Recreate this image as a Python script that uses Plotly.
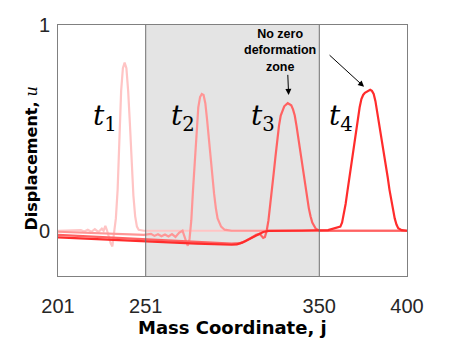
import plotly.graph_objects as go

# mass coordinate j / displacement u for the four snapshots
t1_j = [201, 205, 210, 214, 216, 218, 220, 222, 224, 226, 227, 228, 229, 230, 231, 232, 233, 234,
        235, 236, 237, 238, 239, 240, 241, 242, 243, 244, 245, 246, 247, 250, 300, 350, 400]
t1_u = [0.0, 0.0, 0.0, 0.003, -0.004, 0.005, -0.005, 0.008, -0.006, 0.01, 0.0, 0.024, 0.0, -0.03,
        -0.06, -0.076, -0.02, 0.06, 0.2, 0.45, 0.68, 0.79, 0.817, 0.79, 0.68, 0.52, 0.33, 0.17,
        0.07, 0.02, 0.005, 0.0, 0.0, 0.0, 0.0]

t2_j = [201, 210, 220, 230, 240, 250, 254, 256, 258, 260, 262, 264, 266, 268, 270, 272, 274, 275,
        276, 277, 278, 279, 280, 281, 282, 283, 284, 285, 286, 287, 288, 289, 290, 291, 292, 294,
        296, 300, 350, 400]
t2_u = [-0.005, -0.008, -0.011, -0.014, -0.017, -0.02, -0.015, -0.025, -0.017, -0.027, -0.018,
        -0.028, -0.016, -0.03, -0.01, 0.0, -0.05, -0.073, -0.04, 0.05, 0.2, 0.35, 0.5, 0.6, 0.65,
        0.665, 0.66, 0.62, 0.54, 0.44, 0.35, 0.26, 0.18, 0.11, 0.06, 0.02, 0.005, 0.0, 0.0, 0.0]

t3_j = [201, 220, 240, 260, 280, 300, 305, 308, 311, 314, 316, 318, 319, 320, 321, 322, 323, 324,
        325, 326, 327, 328, 330, 332, 334, 335, 336, 337, 338, 339, 340, 341, 342, 343, 344, 345,
        346, 348, 350, 360, 400]
t3_u = [-0.02, -0.028, -0.037, -0.046, -0.055, -0.063, -0.06, -0.05, -0.035, -0.02, -0.015,
        -0.035, -0.03, 0.0, 0.05, 0.12, 0.2, 0.28, 0.36, 0.44, 0.51, 0.56, 0.605, 0.62, 0.61,
        0.59, 0.56, 0.51, 0.45, 0.39, 0.33, 0.27, 0.21, 0.16, 0.11, 0.07, 0.04, 0.01, 0.0, 0.0, 0.0]

t4_j = [201, 220, 240, 260, 280, 300, 303, 306, 309, 312, 315, 318, 321, 325, 340, 355, 358, 360,
        362, 363, 364, 365, 366, 367, 368, 369, 370, 371, 372, 373, 374, 375, 376, 377, 378, 379,
        380, 381, 382, 383, 384, 385, 386, 387, 388, 389, 390, 391, 392, 393, 394, 395, 397, 400]
t4_u = [-0.032, -0.04, -0.048, -0.056, -0.063, -0.068, -0.066, -0.058, -0.045, -0.03, -0.016,
        -0.006, -0.001, 0.0, 0.001, 0.003, 0.01, 0.014, 0.02, 0.04, 0.08, 0.13, 0.19, 0.25, 0.3,
        0.35, 0.41, 0.48, 0.55, 0.6, 0.64, 0.66, 0.67, 0.675, 0.68, 0.685, 0.68, 0.665, 0.63,
        0.58, 0.52, 0.46, 0.41, 0.36, 0.31, 0.26, 0.2, 0.15, 0.1, 0.06, 0.03, 0.012, 0.003, 0.0]

series = [("t1", t1_j, t1_u, "#ffc4c4"), ("t2", t2_j, t2_u, "#ff9696"),
          ("t3", t3_j, t3_u, "#ff6262"), ("t4", t4_j, t4_u, "#ff2c2c")]

x_ticks = [201, 251, 350, 400]
zone = (251, 350)

fig = go.Figure()
fig.add_vrect(x0=zone[0], x1=zone[1], fillcolor="#e4e4e4", line_width=0, layer="below")
for xv in zone:
    fig.add_vline(x=xv, line_color="#707070", line_width=1)

for name, j, u, col in series:
    fig.add_trace(go.Scatter(x=j, y=u, mode="lines", name=name,
                             line=dict(color=col, width=2.2)))

serif = "DejaVu Serif, Liberation Serif, serif"
sans = "Arial, Liberation Sans"
title_font = "DejaVu Sans"
labels = [(227.8, 0.55, "1"), (272.3, 0.55, "2"), (317.9, 0.55, "3"), (362.4, 0.55, "4")]
for xv, yv, s in labels:
    fig.add_annotation(x=xv, y=yv, text=f"<i>t</i><sub>{s}</sub>", showarrow=False,
                       font=dict(family=serif, size=28, color="black"))

fig.add_annotation(x=327.6, y=0.875, text="<b>No zero<br>deformation<br>zone</b>",
                   showarrow=False, font=dict(family=sans, size=12.5, color="black"))
fig.add_annotation(x=332.5, y=0.66, ax=332, ay=0.765, xref="x", yref="y", axref="x", ayref="y",
                   text="", showarrow=True, arrowhead=2, arrowsize=1.2, arrowwidth=1,
                   arrowcolor="black")
fig.add_annotation(x=375.5, y=0.70, ax=355, ay=0.86, xref="x", yref="y", axref="x", ayref="y",
                   text="", showarrow=True, arrowhead=2, arrowsize=1.2, arrowwidth=1,
                   arrowcolor="black")

# axis titles placed by hand
fig.add_annotation(x=0.5, y=0, xref="paper", yref="paper", xanchor="center", yanchor="middle",
                   yshift=-51, showarrow=False, text="<b>Mass Coordinate, j</b>",
                   font=dict(family=title_font, size=18, color="black"))
fig.add_annotation(x=0, y=0.5, xref="paper", yref="paper", xanchor="center", yanchor="middle",
                   xshift=-27, yshift=-8, showarrow=False, textangle=-90,
                   text="<b>Displacement,</b><span style='font-family:DejaVu Serif'> <i>u</i></span>",
                   font=dict(family=title_font, size=16, color="black"))

# page body has an 8px margin, so the figure is a little smaller than the window
fig.update_layout(
    width=442, height=330,
    margin=dict(l=50, r=43, t=17, b=62),
    plot_bgcolor="white", paper_bgcolor="white",
    showlegend=False,
    font=dict(family=sans, color="#262626"),
)
fig.update_xaxes(range=[201, 400], tickvals=x_ticks, ticks="", showgrid=False, zeroline=False,
                 showline=True, linecolor="#808080", linewidth=1, mirror=True, automargin=False,
                 ticklabelstandoff=12, tickfont=dict(size=20, color="#262626"))
fig.update_yaxes(range=[-0.22, 1], tickvals=[0, 1], ticks="", showgrid=False, zeroline=False,
                 showline=True, linecolor="#808080", linewidth=1, mirror=True, automargin=False,
                 ticklabelstandoff=3, tickfont=dict(size=20, color="#262626"))

fig.write_html("out.html")
